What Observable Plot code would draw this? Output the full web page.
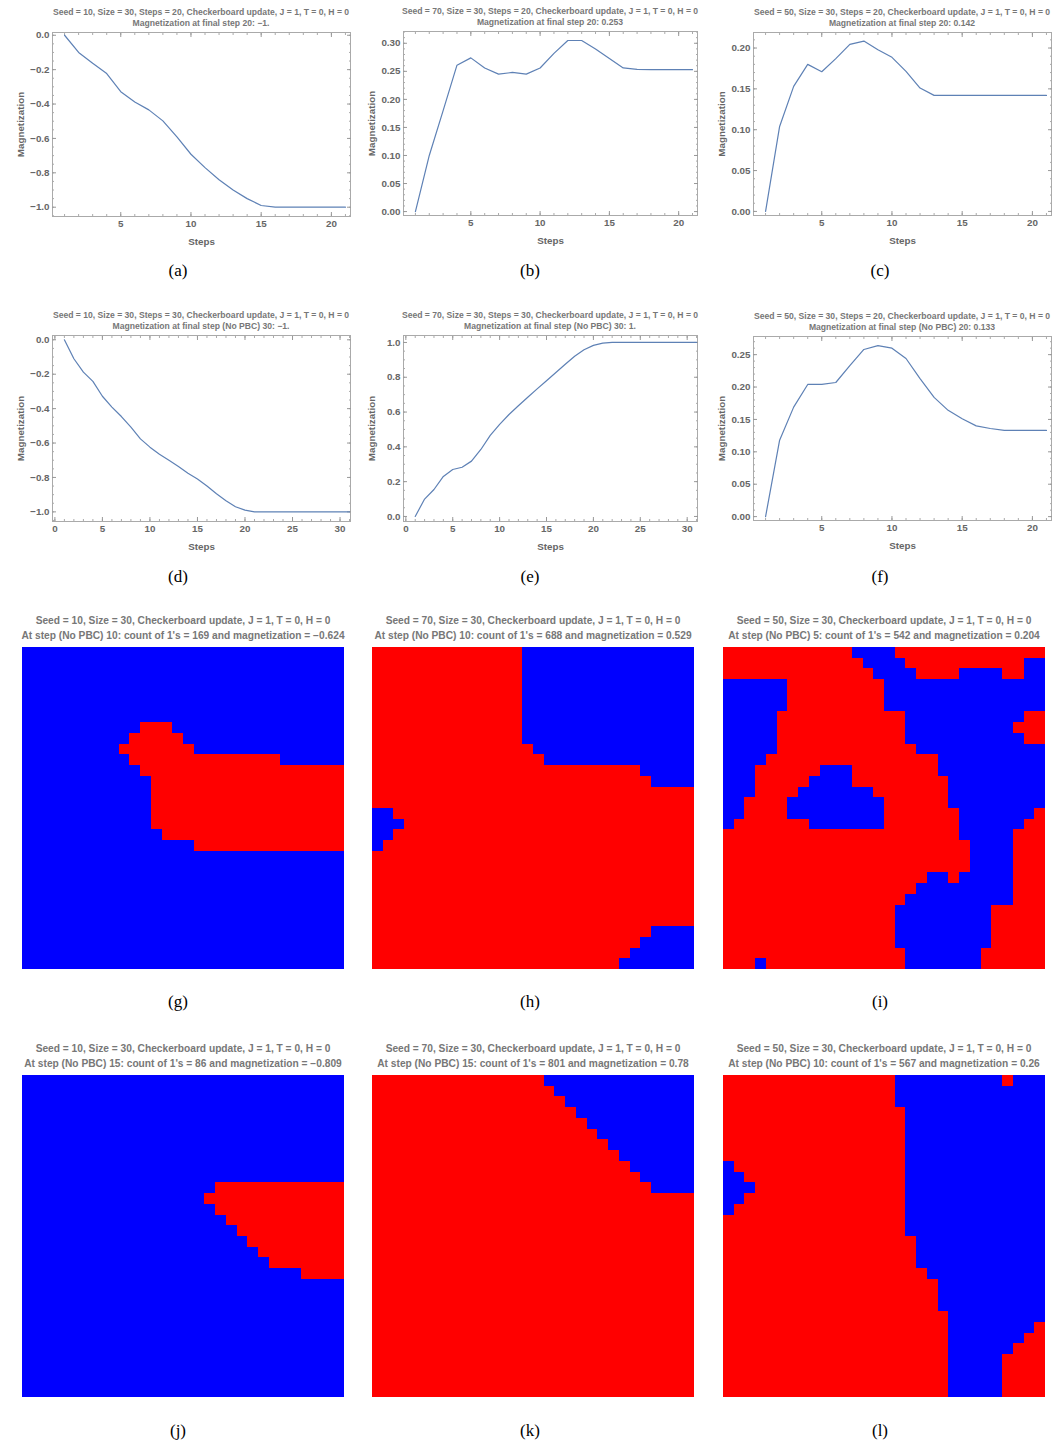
<!DOCTYPE html>
<html><head><meta charset="utf-8">
<script src="https://cdn.jsdelivr.net/npm/d3@7"></script>
<script src="https://cdn.jsdelivr.net/npm/@observablehq/plot@0.6"></script>
<style>
body{margin:0;background:#fff;}
#fig{position:relative;width:1062px;height:1442px;overflow:hidden;font-family:"Liberation Sans",Arial,sans-serif;}
.t{position:absolute;font-weight:bold;color:#777;white-space:nowrap;transform:translate(-50%,-50%);line-height:1;}
.cap{position:absolute;font-family:"Liberation Serif","DejaVu Serif",serif;font-size:17px;color:#000;transform:translate(-50%,-50%);line-height:1;}
.p{position:absolute;}
</style></head><body><div id="fig"></div><script>
// ---------- line chart data (magnetization per step) ----------
const magA = [0, -0.10, -0.163, -0.223, -0.328, -0.388, -0.434, -0.498, -0.591, -0.692, -0.77, -0.84, -0.90, -0.95, -0.99, -1, -1, -1, -1, -1, -1];
const magB = [0, 0.10, 0.18, 0.261, 0.274, 0.256, 0.245, 0.248, 0.245, 0.256, 0.282, 0.305, 0.305, 0.29, 0.273, 0.256, 0.2535, 0.253, 0.253, 0.253, 0.253];
const magC = [0, 0.104, 0.153, 0.180, 0.171, 0.187, 0.2045, 0.2085, 0.198, 0.1886, 0.1715, 0.151, 0.142, 0.142, 0.142, 0.142, 0.142, 0.142, 0.142, 0.142, 0.142];
const magD = [0, -0.11, -0.188, -0.242, -0.328, -0.391, -0.446, -0.508, -0.576, -0.624, -0.665, -0.70, -0.736, -0.775, -0.809, -0.85, -0.895, -0.935, -0.97, -0.99, -1, -1, -1, -1, -1, -1, -1, -1, -1, -1, -1];
const magE = [0, 0.10, 0.155, 0.23, 0.27, 0.283, 0.318, 0.385, 0.466, 0.529, 0.586, 0.636, 0.685, 0.733, 0.78, 0.827, 0.875, 0.921, 0.958, 0.983, 0.996, 1, 1, 1, 1, 1, 1, 1, 1, 1, 1];
const magF = [0, 0.118, 0.169, 0.204, 0.204, 0.207, 0.233, 0.258, 0.264, 0.26, 0.244, 0.213, 0.184, 0.164, 0.151, 0.14, 0.136, 0.133, 0.133, 0.133, 0.133];

// ---------- tick values ----------
const xTicks20 = [5, 10, 15, 20];
const xTicks30 = [0, 5, 10, 15, 20, 25, 30];
const yTicksNeg = [-1.0, -0.8, -0.6, -0.4, -0.2, 0.0];
const yTicksB = [0.00, 0.05, 0.10, 0.15, 0.20, 0.25, 0.30];
const yTicksC = [0.00, 0.05, 0.10, 0.15, 0.20];
const yTicksE = [0.0, 0.2, 0.4, 0.6, 0.8, 1.0];
const yTicksF = [0.00, 0.05, 0.10, 0.15, 0.20, 0.25];

// ---------- titles ----------
const titlesLine = [
  ["Seed = 10, Size = 30, Steps = 20, Checkerboard update, J = 1, T = 0, H = 0", "Magnetization at final step 20: \u22121."],
  ["Seed = 70, Size = 30, Steps = 20, Checkerboard update, J = 1, T = 0, H = 0", "Magnetization at final step 20: 0.253"],
  ["Seed = 50, Size = 30, Steps = 20, Checkerboard update, J = 1, T = 0, H = 0", "Magnetization at final step 20: 0.142"],
  ["Seed = 10, Size = 30, Steps = 30, Checkerboard update, J = 1, T = 0, H = 0", "Magnetization at final step (No PBC) 30: \u22121."],
  ["Seed = 70, Size = 30, Steps = 30, Checkerboard update, J = 1, T = 0, H = 0", "Magnetization at final step (No PBC) 30: 1."],
  ["Seed = 50, Size = 30, Steps = 20, Checkerboard update, J = 1, T = 0, H = 0", "Magnetization at final step (No PBC) 20: 0.133"]
];
const titlesGrid = [
  ["Seed = 10, Size = 30, Checkerboard update, J = 1, T = 0, H = 0", "At step (No PBC) 10: count of 1's = 169 and magnetization = \u22120.624"],
  ["Seed = 70, Size = 30, Checkerboard update, J = 1, T = 0, H = 0", "At step (No PBC) 10: count of 1's = 688 and magnetization = 0.529"],
  ["Seed = 50, Size = 30, Checkerboard update, J = 1, T = 0, H = 0", "At step (No PBC) 5: count of 1's = 542 and magnetization = 0.204"],
  ["Seed = 10, Size = 30, Checkerboard update, J = 1, T = 0, H = 0", "At step (No PBC) 15: count of 1's = 86 and magnetization = \u22120.809"],
  ["Seed = 70, Size = 30, Checkerboard update, J = 1, T = 0, H = 0", "At step (No PBC) 15: count of 1's = 801 and magnetization = 0.78"],
  ["Seed = 50, Size = 30, Checkerboard update, J = 1, T = 0, H = 0", "At step (No PBC) 10: count of 1's = 567 and magnetization = 0.26"]
];
const captions = ["(a)", "(b)", "(c)", "(d)", "(e)", "(f)", "(g)", "(h)", "(i)", "(j)", "(k)", "(l)"];

// ---------- spin grids: run lengths per row, alternating spin -1 (blue) then +1 (red) ----------
const gridG = [
  [30],[30],[30],[30],[30],[30],[30],
  [11,3,16],[10,5,15],[9,7,14],[10,14,6],[11,19],
  [12,18],[12,18],[12,18],[12,18],[12,18],
  [13,17],[16,14],
  [30],[30],[30],[30],[30],[30],[30],[30],[30],[30],[30]
];
const gridH = [
  [0,14,16],[0,14,16],[0,14,16],[0,14,16],[0,14,16],[0,14,16],[0,14,16],[0,14,16],[0,14,16],
  [0,15,15],[0,16,14],[0,25,5],[0,26,4],[0,30],[0,30],
  [2,28],[3,27],[2,28],[1,29],
  [0,30],[0,30],[0,30],[0,30],[0,30],[0,30],[0,30],
  [0,26,4],[0,25,5],[0,24,6],[0,23,7]
];
const gridI = [
  [0,12,4,14],[0,13,4,11,2],[0,14,4,4,4,2,2],
  [6,9,15],[6,9,15],[6,9,15],
  [5,12,11,2],[5,12,10,3],[5,12,11,2],[5,13,12],[4,16,10],
  [3,6,3,8,10],[3,5,4,9,9],[3,4,7,7,9],[2,4,9,6,9],
  [2,4,9,7,7,1],[1,7,7,7,6,2],
  [0,22,5,3],[0,23,4,3],[0,23,4,3],[0,23,4,3],
  [0,19,2,1,5,3],[0,18,9,3],[0,17,10,3],
  [0,16,9,5],[0,16,9,5],[0,16,9,5],[0,16,9,5],
  [0,17,7,6],[0,3,1,13,7,6]
];
const gridJ = [
  [30],[30],[30],[30],[30],[30],[30],[30],[30],[30],
  [18,12],[17,13],[18,12],[19,11],[20,10],[21,9],[22,8],[23,7],[26,4],
  [30],[30],[30],[30],[30],[30],[30],[30],[30],[30],[30]
];
const gridK = [
  [0,16,14],[0,17,13],[0,18,12],[0,19,11],[0,20,10],[0,21,9],[0,22,8],[0,23,7],[0,24,6],[0,25,5],[0,26,4],
  [0,30],[0,30],[0,30],[0,30],[0,30],[0,30],[0,30],[0,30],[0,30],[0,30],[0,30],[0,30],[0,30],[0,30],[0,30],[0,30],[0,30],[0,30],[0,30]
];
const gridL = [
  [0,16,10,1,3],[0,16,14],[0,16,14],
  [0,17,13],[0,17,13],[0,17,13],[0,17,13],[0,17,13],
  [1,16,13],[2,15,13],[3,14,13],[2,15,13],[1,16,13],
  [0,17,13],[0,17,13],
  [0,18,12],[0,18,12],[0,18,12],[0,19,11],
  [0,20,10],[0,20,10],[0,20,10],[0,21,9],
  [0,21,8,1],[0,21,7,2],[0,21,6,3],
  [0,21,5,4],[0,21,5,4],[0,21,5,4],[0,21,5,4]
];

const LINE = "#5E81B5", RED = "#ff0000", BLUE = "#0000ff";
const FONT = "'Liberation Sans', Arial, sans-serif";
const fig = document.getElementById("fig");

function addText(cls, txt, x, y, size) {
  const d = document.createElement("div");
  d.className = cls; d.textContent = txt;
  d.style.left = x + "px"; d.style.top = y + "px";
  if (size) d.style.fontSize = size + "px";
  fig.appendChild(d);
}
function place(node, left, top) {
  const d = document.createElement("div");
  d.className = "p"; d.style.left = left + "px"; d.style.top = top + "px";
  d.appendChild(node); fig.appendChild(d);
}
function minorOf(domain, step) {
  const out = [];
  const s = Math.ceil(domain[0] / step - 1e-9), e = Math.floor(domain[1] / step + 1e-9);
  for (let i = s; i <= e; i++) out.push(+(i * step).toFixed(6));
  return out;
}

function linePanel(o) {
  const W = 354, mt = 12, mb = 40;
  const H = mt + (o.bottom - o.top) + mb;
  const ml = o.frameL - o.x0, mr = o.x0 + W - o.frameR;
  const data = o.ys.map((m, i) => ({step: i + 1, m}));
  const ax = {stroke: "#999", fill: "#666", fontWeight: "bold", fontSize: 9.8};
  const xMinor = minorOf(o.xDomain, 1), yMinor = minorOf(o.yDomain, o.yMinorStep);
  const svg = Plot.plot({
    width: W, height: H, marginLeft: ml, marginRight: mr, marginTop: mt, marginBottom: mb,
    style: {fontFamily: FONT, background: "transparent", overflow: "visible"},
    x: {domain: o.xDomain},
    y: {domain: o.yDomain},
    marks: [
      Plot.frame({stroke: "#aaa"}),
      Plot.axisX({anchor: "bottom", ticks: xMinor, tickSize: -2, tickFormat: () => "", label: null, stroke: "#aaa"}),
      Plot.axisX({anchor: "top", ticks: xMinor, tickSize: -2, tickFormat: () => "", label: null, stroke: "#aaa"}),
      Plot.axisY({anchor: "left", ticks: yMinor, tickSize: -2, tickFormat: () => "", label: null, stroke: "#aaa"}),
      Plot.axisY({anchor: "right", ticks: yMinor, tickSize: -2, tickFormat: () => "", label: null, stroke: "#aaa"}),
      Plot.axisX({anchor: "top", ticks: o.xTicks, tickSize: -4, tickFormat: () => "", label: null, stroke: "#999"}),
      Plot.axisY({anchor: "right", ticks: o.yTicks, tickSize: -4, tickFormat: () => "", label: null, stroke: "#999"}),
      Plot.axisX({anchor: "bottom", ticks: o.xTicks, tickSize: -4, tickPadding: 8, tickFormat: d3.format("d"), ...ax,
        label: "Steps", labelAnchor: "center", labelOffset: 28, labelArrow: "none"}),
      Plot.axisY({anchor: "left", ticks: o.yTicks, tickSize: -4, tickPadding: 7, tickFormat: o.yFmt, ...ax,
        label: "Magnetization", labelAnchor: "center", labelOffset: 35, labelArrow: "none"}),
      Plot.line(data, {x: "step", y: "m", stroke: LINE, strokeWidth: 1.2})
    ]
  });
  place(svg, o.x0, o.top - mt);
  const cx = (o.frameL + o.frameR) / 2;
  addText("t", o.titles[0], cx, o.top - 20, 8.6);
  addText("t", o.titles[1], cx, o.top - 9, 8.6);
}

function gridPanel(runs, left, top, titles) {
  const cells = [];
  runs.forEach((row, r) => {
    let c = 0;
    row.forEach((len, k) => { for (let i = 0; i < len; i++) cells.push({r, c: c++, s: k % 2}); });
  });
  const svg = Plot.plot({
    width: 322, height: 322, margin: 0,
    style: {background: "transparent"},
    x: {type: "band", domain: d3.range(30), padding: 0, round: false, axis: null},
    y: {type: "band", domain: d3.range(30), padding: 0, round: false, axis: null},
    color: {domain: [0, 1], range: [BLUE, RED]},
    marks: [Plot.cell(cells, {x: "c", y: "r", fill: "s", shapeRendering: "crispEdges"})]
  });
  place(svg, left, top);
  addText("t", titles[0], left + 161, top - 26, 10.2);
  addText("t", titles[1], left + 161, top - 11, 10.2);
}

const f1 = d3.format(".1f"), f2 = d3.format(".2f");
const X20 = [0.14, 21.36], X30 = [-0.25, 31.1];
linePanel({x0: 0, frameL: 52, frameR: 350, top: 32, bottom: 216, ys: magA, xDomain: X20, yDomain: [-1.054, 0.016], xTicks: xTicks20, yTicks: yTicksNeg, yMinorStep: 0.05, yFmt: f1, titles: titlesLine[0]});
linePanel({x0: 354, frameL: 403, frameR: 697, top: 31, bottom: 215, ys: magB, xDomain: X20, yDomain: [-0.007, 0.321], xTicks: xTicks20, yTicks: yTicksB, yMinorStep: 0.01, yFmt: f2, titles: titlesLine[1]});
linePanel({x0: 708, frameL: 753, frameR: 1051, top: 32, bottom: 215, ys: magC, xDomain: X20, yDomain: [-0.005, 0.219], xTicks: xTicks20, yTicks: yTicksC, yMinorStep: 0.01, yFmt: f2, titles: titlesLine[2]});
linePanel({x0: 0, frameL: 52, frameR: 350, top: 335, bottom: 521, ys: magD, xDomain: X30, yDomain: [-1.056, 0.025], xTicks: xTicks30, yTicks: yTicksNeg, yMinorStep: 0.05, yFmt: f1, titles: titlesLine[3]});
linePanel({x0: 354, frameL: 403, frameR: 697, top: 335, bottom: 521, ys: magE, xDomain: X30, yDomain: [-0.029, 1.04], xTicks: xTicks30, yTicks: yTicksE, yMinorStep: 0.05, yFmt: f1, titles: titlesLine[4]});
linePanel({x0: 708, frameL: 753, frameR: 1051, top: 336, bottom: 520, ys: magF, xDomain: X20, yDomain: [-0.006, 0.278], xTicks: xTicks20, yTicks: yTicksF, yMinorStep: 0.01, yFmt: f2, titles: titlesLine[5]});

gridPanel(gridG, 22, 647, titlesGrid[0]);
gridPanel(gridH, 372, 647, titlesGrid[1]);
gridPanel(gridI, 723, 647, titlesGrid[2]);
gridPanel(gridJ, 22, 1075, titlesGrid[3]);
gridPanel(gridK, 372, 1075, titlesGrid[4]);
gridPanel(gridL, 723, 1075, titlesGrid[5]);

const capX = [178, 530, 880], capY = [270, 576, 1001, 1430];
captions.forEach((c, i) => addText("cap", c, capX[i % 3], capY[Math.floor(i / 3)]));
</script></body></html>
